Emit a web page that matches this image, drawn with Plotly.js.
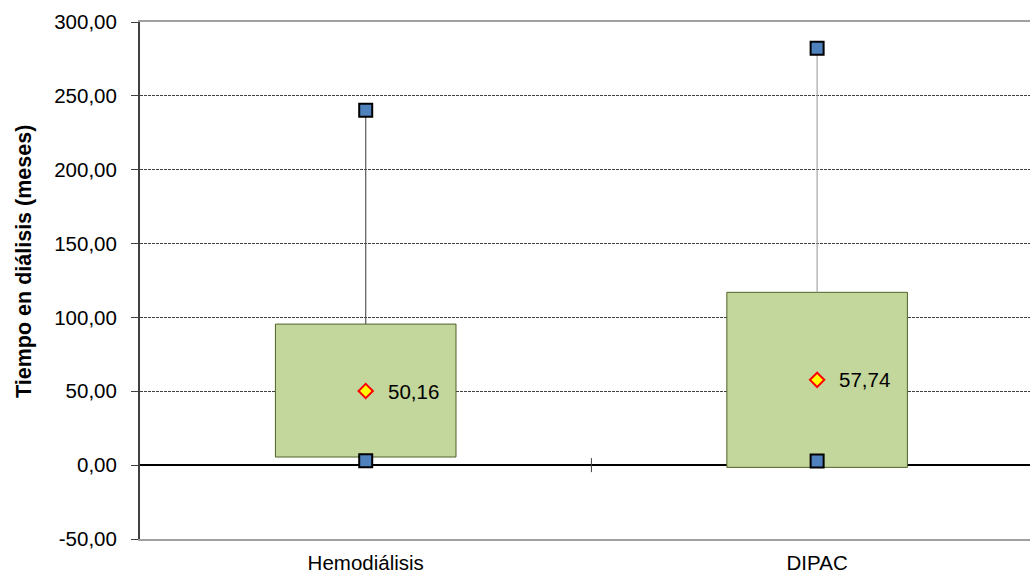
<!DOCTYPE html>
<html>
<head>
<meta charset="utf-8">
<script src="https://cdn.plot.ly/plotly-3.0.1.min.js"></script>
<style>html,body{margin:0;padding:0;background:#fff;}#chart{width:1030px;height:575px;}</style>
</head>
<body>
<div id="chart"></div>
<script>
const categories = ['Hemodiálisis', 'DIPAC'];
const q1Values   = [5.5, -1.5];
const q3Values   = [95.5, 117.0];
const maxValues  = [240.3, 282.3];
const minValues  = [3.0, 2.8];
const meanValues = [50.16, 57.74];
const yTickVals  = [-50, 0, 50, 100, 150, 200, 250, 300];
const yTickText  = ['-50,00', '0,00', '50,00', '100,00', '150,00', '200,00', '250,00', '300,00'];
const yTitle = 'Tiempo en diálisis (meses)';
const whiskerColors = ['#595959', '#A6A6A6'];

const xPos = categories.map((c, i) => i);
const FONT = 'Liberation Sans, Arial, sans-serif';

const traces = [];
// boxes
traces.push({
  type: 'bar', x: xPos, base: q1Values,
  y: q3Values.map((v, i) => v - q1Values[i]),
  width: 0.4,
  marker: {color: '#C3D69B', line: {color: '#4F6228', width: 1}},
  hoverinfo: 'skip', showlegend: false
});
// whiskers
categories.forEach((c, i) => {
  traces.push({
    type: 'scatter', mode: 'lines',
    x: [xPos[i], xPos[i]], y: [q3Values[i], maxValues[i]],
    line: {color: whiskerColors[i], width: 1.2},
    hoverinfo: 'skip', showlegend: false
  });
});
// max & min markers
traces.push({
  type: 'scatter', mode: 'markers',
  x: xPos.concat(xPos), y: maxValues.concat(minValues),
  marker: {symbol: 'square', size: 13, color: '#4F81BD', line: {color: '#000', width: 2}},
  hoverinfo: 'skip', showlegend: false
});
// mean markers
traces.push({
  type: 'scatter', mode: 'markers',
  x: xPos, y: meanValues,
  marker: {symbol: 'diamond', size: 11, color: '#FFFF00', line: {color: '#FF0000', width: 2}},
  hoverinfo: 'skip', showlegend: false
});

const annotations = meanValues.map((v, i) => ({
  x: xPos[i], y: v, xref: 'x', yref: 'y',
  text: v.toFixed(2).replace('.', ','),
  showarrow: false, xanchor: 'left', yanchor: 'middle', xshift: 20,
  font: {family: FONT, size: 20.5, color: '#000'}
}));
// y-axis title placed as in the reference
annotations.push({
  xref: 'paper', yref: 'paper', x: -0.1303, y: 0.536,
  xanchor: 'center', yanchor: 'middle', textangle: -90,
  text: '<b>' + yTitle + '</b>', showarrow: false,
  font: {family: FONT, size: 21.5, color: '#000'}
});

const layout = {
  width: 1030, height: 575,
  margin: {l: 140, r: 0, t: 22, b: 36, pad: 0},
  paper_bgcolor: '#fff', plot_bgcolor: '#fff',
  font: {family: FONT, size: 20.5, color: '#000'},
  showlegend: false,
  xaxis: {
    range: [-0.5, 1.4716],
    tickvals: xPos, ticktext: categories,
    showgrid: false, zeroline: false,
    showline: true, linecolor: '#A0A0A0', linewidth: 2, mirror: true,
    ticks: '', ticklabelstandoff: 4,
    tickfont: {family: FONT, size: 20.5, color: '#000'},
    fixedrange: true
  },
  yaxis: {
    range: [-50, 300],
    tickvals: yTickVals, ticktext: yTickText,
    showgrid: true, gridcolor: '#404040', gridwidth: 1, griddash: '3px,1px',
    zeroline: true, zerolinecolor: '#000', zerolinewidth: 1.5,
    showline: true, linecolor: '#404040', linewidth: 2,
    ticks: 'outside', ticklen: 7, tickcolor: '#404040', tickwidth: 1,
    ticklabelstandoff: 10,
    tickfont: {family: FONT, size: 20.5, color: '#000'},
    fixedrange: true
  },
  shapes: [{
    type: 'line', xref: 'x', yref: 'y', x0: 0.5, x1: 0.5,
    ysizemode: 'pixel', yanchor: 0, y0: -7, y1: 7,
    line: {color: '#404040', width: 1}
  }],
  annotations: annotations
};

Plotly.newPlot('chart', traces, layout, {displayModeBar: false, staticPlot: true});
</script>
</body>
</html>
